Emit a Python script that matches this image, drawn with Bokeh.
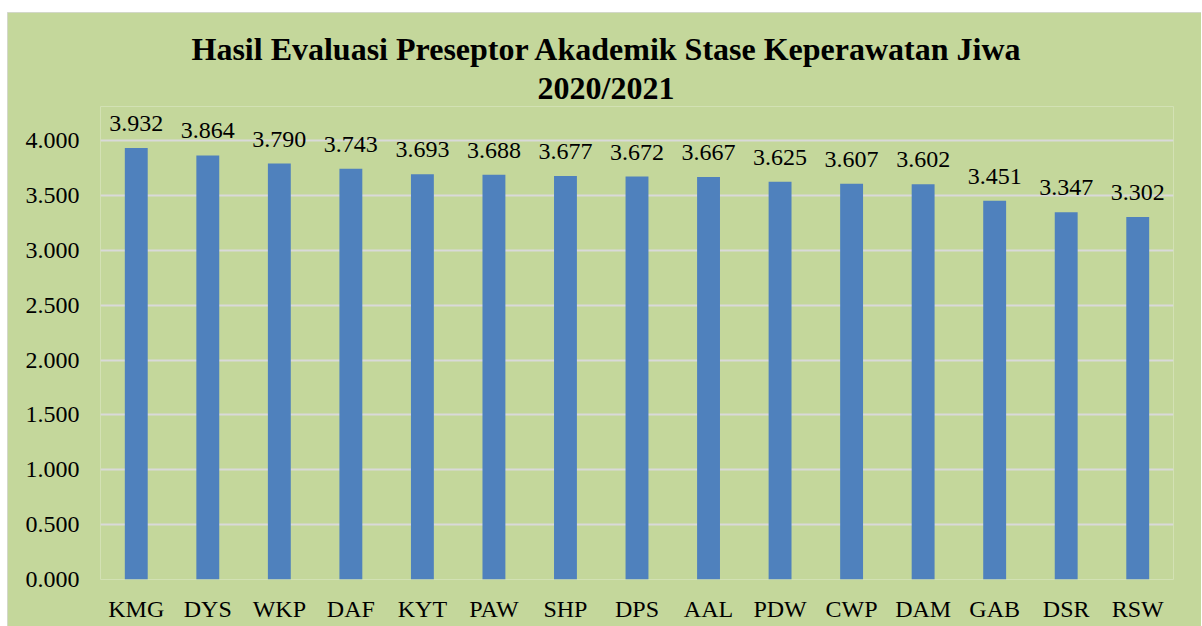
from bokeh.plotting import figure
from bokeh.models import (ColumnDataSource, LabelSet, NumeralTickFormatter, FixedTicker,
                          Range1d, FactorRange, Title)
from bokeh.embed import file_html
from bokeh.resources import INLINE

categories = ["KMG", "DYS", "WKP", "DAF", "KYT", "PAW", "SHP", "DPS", "AAL",
              "PDW", "CWP", "DAM", "GAB", "DSR", "RSW"]
values = [3.932, 3.864, 3.790, 3.743, 3.693, 3.688, 3.677, 3.672, 3.667,
          3.625, 3.607, 3.602, 3.451, 3.347, 3.302]
y_ticks = [0.0, 0.5, 1.0, 1.5, 2.0, 2.5, 3.0, 3.5, 4.0]
title_line1 = "Hasil Evaluasi Preseptor Akademik Stase Keperawatan Jiwa"
title_line2 = "2020/2021"

GREEN = "#C4D79B"
BAR = "#4F81BD"
GRID = "#D9D9D9"
FONT = "Liberation Serif"

src = ColumnDataSource(dict(cat=categories, val=values,
                            lab=[f"{v:.3f}" for v in values]))

# y range extends a little above the top gridline so the data labels fit
p = figure(x_range=FactorRange(factors=categories), y_range=Range1d(0, 4.31),
           width=1194, height=614, output_backend="svg", toolbar_location=None,
           margin=(12, 0, 0, 7),
           styles={"outline": "1px solid #D9D9D9", "outline-offset": "-1px"},
           min_border_left=93, min_border_right=28, min_border_top=94,
           min_border_bottom=47, background_fill_color=GREEN,
           border_fill_color=GREEN, outline_line_color=None)

p.vbar(x="cat", top="val", width=0.32, source=src, fill_color=BAR, line_color=None)

labels = LabelSet(x="cat", y="val", text="lab", source=src, text_align="center",
                  text_baseline="alphabetic", y_offset=17, text_font=FONT,
                  text_font_size="24px", text_color="#000000")
p.add_layout(labels)

# first title line (outer)
p.title.text = title_line1
p.title.align = "left"
p.title.offset = 91
p.title.standoff = 0
p.title.text_font = FONT
p.title.text_font_style = "bold"
p.title.text_font_size = "32px"
p.title.text_color = "#000000"

# second title line (closest to the plot)
t2 = Title(text=title_line2, align="left", offset=437, standoff=2, text_font=FONT,
           text_font_style="bold", text_font_size="32px", text_color="#000000",
           text_line_height=0.9)
p.add_layout(t2, "above")

p.xgrid.grid_line_color = None
p.ygrid.ticker = FixedTicker(ticks=y_ticks)
p.ygrid.grid_line_color = GRID
p.ygrid.grid_line_width = 2

p.yaxis.ticker = FixedTicker(ticks=y_ticks)
p.yaxis.formatter = NumeralTickFormatter(format="0.000")
for ax in (p.xaxis, p.yaxis):
    ax.axis_line_color = None
    ax.major_tick_line_color = None
    ax.minor_tick_line_color = None
    ax.major_tick_out = 0
    ax.major_tick_in = 0
    ax.major_label_text_font = FONT
    ax.major_label_text_font_size = "24px"
    ax.major_label_text_color = "#000000"
p.yaxis.major_label_standoff = 21
p.xaxis.major_label_standoff = 16

open("out.html", "w").write(file_html(p, INLINE))
